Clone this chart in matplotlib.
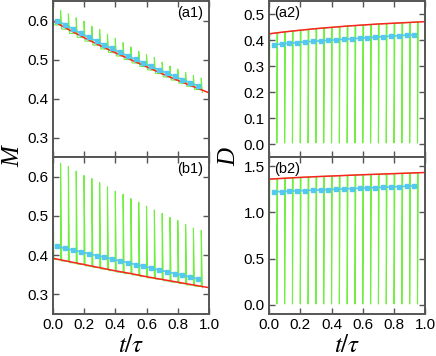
import numpy as np
import matplotlib
matplotlib.use("Agg")
import matplotlib.pyplot as plt

plt.rcParams['font.family'] = ['Liberation Sans', 'DejaVu Sans']

# time grids
t_red = [0.0, 0.1, 0.2, 0.3, 0.4, 0.5, 0.6, 0.7, 0.8, 0.9, 1.0]
t_kick = [0.00, 0.05, 0.10, 0.15, 0.20, 0.25, 0.30, 0.35, 0.40, 0.45,
          0.50, 0.55, 0.60, 0.65, 0.70, 0.75, 0.80, 0.85, 0.90, 0.95]
t_avg = [0.03, 0.08, 0.13, 0.18, 0.23, 0.28, 0.33, 0.38, 0.43, 0.48,
         0.53, 0.58, 0.63, 0.68, 0.73, 0.78, 0.83, 0.88, 0.93]

# (a1) M
a1_red = [0.600, 0.578, 0.557, 0.537, 0.518, 0.500, 0.482, 0.464, 0.447, 0.431, 0.415]
a1_avg = [0.600, 0.590, 0.579, 0.568, 0.558, 0.548, 0.538, 0.529, 0.519, 0.510,
          0.501, 0.492, 0.483, 0.474, 0.466, 0.457, 0.449, 0.441, 0.433]
a1_peak = [0.636, 0.627, 0.618, 0.608, 0.599, 0.586, 0.578, 0.566, 0.555, 0.544,
           0.533, 0.522, 0.513, 0.506, 0.494, 0.484, 0.476, 0.467, 0.460, 0.453]
a1_base = [0.600, 0.589, 0.578, 0.567, 0.557, 0.547, 0.537, 0.527, 0.518, 0.509,
           0.500, 0.491, 0.482, 0.473, 0.464, 0.455, 0.447, 0.439, 0.431, 0.423]
a1_trough = [0.590, 0.579, 0.568, 0.558, 0.548, 0.538, 0.528, 0.519, 0.510, 0.501,
             0.492, 0.483, 0.474, 0.465, 0.456, 0.448, 0.440, 0.432, 0.424, 0.416]

# (b1) M
b1_red = [0.392, 0.384, 0.376, 0.368, 0.360, 0.353, 0.345, 0.338, 0.331, 0.324, 0.317]
b1_avg = [0.422, 0.417, 0.413, 0.408, 0.404, 0.399, 0.395, 0.390, 0.385, 0.381,
          0.376, 0.372, 0.367, 0.362, 0.358, 0.353, 0.349, 0.344, 0.339]
b1_peak = [0.644, 0.634, 0.626, 0.614, 0.603, 0.595, 0.585, 0.574, 0.563, 0.555,
           0.544, 0.535, 0.525, 0.515, 0.506, 0.496, 0.488, 0.478, 0.469, 0.463]
b1_base = [0.392, 0.388, 0.384, 0.380, 0.376, 0.372, 0.368, 0.364, 0.360, 0.356,
           0.353, 0.349, 0.345, 0.342, 0.338, 0.334, 0.331, 0.327, 0.324, 0.320]
b1_trough = [0.389, 0.385, 0.381, 0.377, 0.373, 0.369, 0.365, 0.361, 0.357, 0.353,
             0.350, 0.346, 0.342, 0.339, 0.335, 0.331, 0.328, 0.324, 0.321, 0.317]

# (a2) D
a2_red = [0.425, 0.4325, 0.439, 0.445, 0.450, 0.455, 0.459, 0.463, 0.466, 0.469, 0.472]
a2_avg = [0.383, 0.386, 0.389, 0.391, 0.394, 0.396, 0.398, 0.400, 0.402, 0.404,
          0.406, 0.408, 0.410, 0.412, 0.414, 0.416, 0.418, 0.420, 0.422]
a2_top = [0.425, 0.429, 0.4325, 0.436, 0.439, 0.442, 0.445, 0.4475, 0.450, 0.4525,
          0.455, 0.457, 0.459, 0.461, 0.463, 0.4645, 0.466, 0.4675, 0.469, 0.4705]
a2_low = [0.004] * 20

# (b2) D
b2_red = [1.360, 1.370, 1.379, 1.387, 1.394, 1.401, 1.408, 1.414, 1.420, 1.426, 1.432]
b2_avg = [1.222, 1.226, 1.230, 1.234, 1.237, 1.241, 1.244, 1.248, 1.251, 1.255,
          1.258, 1.261, 1.265, 1.268, 1.272, 1.275, 1.279, 1.283, 1.287]
b2_top = [1.360, 1.365, 1.370, 1.375, 1.379, 1.383, 1.387, 1.391, 1.394, 1.398,
          1.401, 1.405, 1.408, 1.411, 1.414, 1.417, 1.420, 1.423, 1.426, 1.429]
b2_low = [0.008] * 20

GREEN = '#4cec10'
RED = '#ff2222'
CYAN = '#55c8f0'
SPINE = '#555555'


def m_path(kicks, base, peak, trough, w=0.007):
    """kick: jump up to peak, fast decay to trough, then back to base"""
    xs, ys = [], []
    for i, tk in enumerate(kicks):
        xs += [tk, tk, tk + w]
        ys += [base[i], peak[i], trough[i]]
        if i + 1 < len(kicks):
            xs.append(kicks[i + 1])
            ys.append(base[i + 1])
    return xs, ys


def d_path(kicks, top, low, w=0.005):
    """kick: drop to low, fast recovery to top"""
    xs, ys = [], []
    for i, tk in enumerate(kicks):
        xs += [tk, tk, tk + w]
        ys += [top[i], low[i], top[i]]
    return xs, ys


def style(ax, ylim, yticks, xlabels):
    ax.set_xlim(0, 1)
    ax.set_ylim(*ylim)
    ax.set_xticks([0, 0.2, 0.4, 0.6, 0.8, 1.0])
    ax.set_yticks(yticks)
    ax.tick_params(direction='in', top=True, right=True, length=4, width=1,
                   color=SPINE, labelsize=11, pad=3)
    if not xlabels:
        ax.set_xticklabels([])
    else:
        ax.set_xticklabels(['%.1f' % v for v in [0, 0.2, 0.4, 0.6, 0.8, 1.0]])
    for s in ax.spines.values():
        s.set_color(SPINE)
        s.set_linewidth(1.4)


fig = plt.figure(figsize=(4.36, 3.56), dpi=100)
L1, L2, W = 0.121, 0.617, 0.3585
ax_a1 = fig.add_axes([L1, 0.559, W, 0.437])
ax_b1 = fig.add_axes([L1, 0.118, W, 0.441])
ax_a2 = fig.add_axes([L2, 0.559, W, 0.437])
ax_b2 = fig.add_axes([L2, 0.118, W, 0.441])

# M panels
for ax, red, avg, peak, base, trough in [(ax_a1, a1_red, a1_avg, a1_peak, a1_base, a1_trough),
                                         (ax_b1, b1_red, b1_avg, b1_peak, b1_base, b1_trough)]:
    gx, gy = m_path(t_kick, base, peak, trough)
    ax.plot(gx, gy, color=GREEN, lw=0.8, alpha=0.8, zorder=1)
    ax.plot(t_red, red, color=RED, lw=1.1, zorder=2)
    ax.plot(t_avg, avg, color=CYAN, lw=1.2, marker='s', ms=3, zorder=3)

# D panels
for ax, red, avg, top, low in [(ax_a2, a2_red, a2_avg, a2_top, a2_low),
                               (ax_b2, b2_red, b2_avg, b2_top, b2_low)]:
    gx, gy = d_path(t_kick, top, low)
    ax.plot(gx, gy, color=GREEN, lw=0.8, alpha=0.8, zorder=1)
    ax.plot(t_red, red, color=RED, lw=1.1, zorder=2)
    ax.plot(t_avg, avg, color=CYAN, lw=1.2, marker='s', ms=3, zorder=3)

style(ax_a1, (0.25, 0.65), [0.3, 0.4, 0.5, 0.6], False)
style(ax_b1, (0.25, 0.65), [0.3, 0.4, 0.5, 0.6], True)
style(ax_a2, (-0.05, 0.55), [0.0, 0.1, 0.2, 0.3, 0.4, 0.5], False)
style(ax_b2, (-0.1, 1.6), [0.0, 0.5, 1.0, 1.5], True)

ax_a1.text(0.96, 0.97, '(a1)', transform=ax_a1.transAxes, ha='right', va='top', fontsize=10.5)
ax_b1.text(0.96, 0.97, '(b1)', transform=ax_b1.transAxes, ha='right', va='top', fontsize=10.5)
ax_a2.text(0.03, 0.97, '(a2)', transform=ax_a2.transAxes, ha='left', va='top', fontsize=10.5)
ax_b2.text(0.03, 0.97, '(b2)', transform=ax_b2.transAxes, ha='left', va='top', fontsize=10.5)

serif = {'family': ['Liberation Serif', 'DejaVu Serif'], 'style': 'italic', 'size': 18}
fig.text(0.03, 0.559, 'M', ha='center', va='center', rotation=90, fontdict=serif)
fig.text(0.527, 0.559, 'D', ha='center', va='center', rotation=90, fontdict=serif)
fig.text(L1 + W / 2, 0.03, r'$t/\tau$', ha='center', va='center', fontsize=18,
         math_fontfamily='stix')
fig.text(L2 + W / 2, 0.03, r'$t/\tau$', ha='center', va='center', fontsize=18,
         math_fontfamily='stix')

fig.savefig('out.png', dpi=100)
